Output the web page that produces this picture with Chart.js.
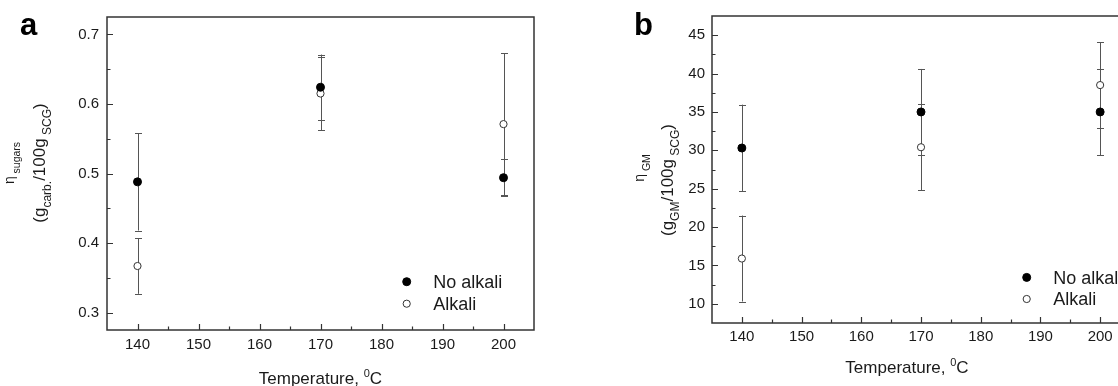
<!DOCTYPE html>
<html>
<head>
<meta charset="utf-8">
<script src="https://cdn.jsdelivr.net/npm/chart.js@4.4.1/dist/chart.umd.min.js"></script>
<style>
  html, body { margin: 0; padding: 0; background: #fff; overflow: hidden; }
  #wrap { position: relative; width: 1118px; height: 386px; overflow: hidden; }
  #chart-a { position: absolute; left: 0; top: 0; }
  #chart-b { position: absolute; left: 560px; top: 0; }
</style>
</head>
<body>
<div id="wrap">
  <canvas id="chart-a" width="560" height="386"></canvas>
  <canvas id="chart-b" width="600" height="386"></canvas>
</div>
<script>
const temps = [140, 170, 200];
const xTicks = [140, 150, 160, 170, 180, 190, 200];

// panel a - sugars yield
const sugarsNoAlkali = [0.488, 0.624, 0.494];
const sugarsNoAlkaliErr = [0.070, 0.047, 0.027];
const sugarsAlkali = [0.367, 0.615, 0.571];
const sugarsAlkaliErr = [0.040, 0.053, 0.102];
const sugarsTicks = [0.3, 0.4, 0.5, 0.6, 0.7];

// panel b - GM yield
const gmNoAlkali = [30.3, 35.0, 35.0];
const gmNoAlkaliErr = [5.65, 5.6, 5.65];
const gmAlkali = [15.9, 30.4, 38.5];
const gmAlkaliErr = [5.6, 5.6, 5.6];
const gmTicks = [10, 15, 20, 25, 30, 35, 40, 45];

const seriesNames = ["No alkali", "Alkali"];

const FONT = "Arial, 'Liberation Sans', sans-serif";
const INK = "#1a1a1a";

function drawRich(ctx, parts, x, y, rotate) {
  ctx.save();
  ctx.translate(x, y);
  if (rotate) ctx.rotate(-Math.PI / 2);
  ctx.textBaseline = "alphabetic";
  ctx.textAlign = "left";
  ctx.fillStyle = INK;
  let total = 0;
  parts.forEach(p => {
    ctx.font = (p.bold ? "bold " : "") + p.size + "px " + FONT;
    p.w = ctx.measureText(p.t).width;
    total += p.w;
  });
  let cx = -total / 2;
  parts.forEach(p => {
    ctx.font = (p.bold ? "bold " : "") + p.size + "px " + FONT;
    ctx.fillText(p.t, cx, p.dy || 0);
    cx += p.w;
  });
  ctx.restore();
}

const decor = {
  id: "decor",
  beforeDatasetsDraw(chart) {
    const ctx = chart.ctx;
    const xs = chart.scales.x, ys = chart.scales.y;
    ctx.save();
    ctx.strokeStyle = "#555";
    ctx.lineWidth = 1;
    chart.data.datasets.forEach(ds => {
      ds.data.forEach((pt, i) => {
        const e = ds.errors[i];
        const x = Math.round(xs.getPixelForValue(pt.x)) + 0.5;
        const y1 = ys.getPixelForValue(pt.y + e);
        const y2 = ys.getPixelForValue(pt.y - e);
        ctx.beginPath();
        ctx.moveTo(x, y1); ctx.lineTo(x, y2);
        ctx.moveTo(x - 3.5, Math.round(y1) + 0.5); ctx.lineTo(x + 3.5, Math.round(y1) + 0.5);
        ctx.moveTo(x - 3.5, Math.round(y2) + 0.5); ctx.lineTo(x + 3.5, Math.round(y2) + 0.5);
        ctx.stroke();
      });
    });
    ctx.restore();
  },
  afterDraw(chart, args, o) {
    const ctx = chart.ctx;
    const a = chart.chartArea;
    const xs = chart.scales.x, ys = chart.scales.y;
    ctx.save();

    // frame
    ctx.strokeStyle = "#333";
    ctx.lineWidth = 1.5;
    ctx.strokeRect(a.left, a.top, a.right - a.left, a.bottom - a.top);

    // inward ticks, major + minor
    ctx.lineWidth = 1.2;
    ctx.beginPath();
    xTicks.forEach(v => {
      const x = Math.round(xs.getPixelForValue(v)) + 0.5;
      ctx.moveTo(x, a.bottom); ctx.lineTo(x, a.bottom - 6);
      [v - 5, v + 5].forEach(m => {
        if (m > xs.min && m < xs.max) {
          const xm = Math.round(xs.getPixelForValue(m)) + 0.5;
          ctx.moveTo(xm, a.bottom); ctx.lineTo(xm, a.bottom - 3.5);
        }
      });
    });
    o.yTicks.forEach(v => {
      const y = Math.round(ys.getPixelForValue(v)) + 0.5;
      ctx.moveTo(a.left, y); ctx.lineTo(a.left + 6, y);
      [v - o.yMinor, v + o.yMinor].forEach(m => {
        if (m > ys.min && m < ys.max) {
          const ym = Math.round(ys.getPixelForValue(m)) + 0.5;
          ctx.moveTo(a.left, ym); ctx.lineTo(a.left + 3.5, ym);
        }
      });
    });
    ctx.stroke();

    // axis titles
    o.yTitle.forEach(line => drawRich(ctx, line.parts, line.x, line.y, true));
    drawRich(ctx, [
      { t: "Temperature, ", size: 17 },
      { t: "0", size: 11, dy: -7 },
      { t: "C", size: 17 }
    ], o.xTitle.x, o.xTitle.y, false);

    // panel letter
    ctx.fillStyle = "#000";
    ctx.font = "bold 31px " + FONT;
    ctx.textAlign = "left";
    ctx.textBaseline = "alphabetic";
    ctx.fillText(o.letter.t, o.letter.x, o.letter.y);

    // legend inside plot
    const lx = a.right - o.legend.dx;
    chart.data.datasets.forEach((ds, i) => {
      const ly = a.bottom - o.legend.dy + i * o.legend.gap;
      ctx.beginPath();
      ctx.arc(lx, ly, ds.pointRadius, 0, Math.PI * 2);
      ctx.fillStyle = ds.pointBackgroundColor;
      ctx.fill();
      ctx.lineWidth = 1;
      ctx.strokeStyle = ds.pointBorderColor;
      ctx.stroke();
      ctx.fillStyle = INK;
      ctx.font = "18px " + FONT;
      ctx.fillText(ds.label, lx + 26.5, ly + 6.4);
    });
    ctx.restore();
  }
};

function series(vals, errs, idx) {
  const filled = idx === 0;
  return {
    label: seriesNames[idx],
    data: temps.map((t, i) => ({ x: t, y: vals[i] })),
    errors: errs,
    showLine: false,
    pointRadius: filled ? 4 : 3.6,
    pointHoverRadius: filled ? 4 : 3.6,
    pointBackgroundColor: filled ? "#000" : "#fff",
    pointBorderColor: filled ? "#000" : "#333",
    pointBorderWidth: 1
  };
}

function makePanel(id, p) {
  new Chart(document.getElementById(id).getContext("2d"), {
    type: "scatter",
    data: {
      datasets: [series(p.noAlk, p.noAlkErr, 0), series(p.alk, p.alkErr, 1)]
    },
    plugins: [decor],
    options: {
      responsive: false,
      animation: false,
      devicePixelRatio: 1,
      layout: { padding: { left: 0, top: 15, right: p.padRight, bottom: 0 } },
      plugins: {
        legend: { display: false },
        tooltip: { enabled: false },
        decor: p.decor
      },
      scales: {
        x: {
          type: "linear",
          min: 135,
          max: 205,
          grid: { display: false, drawTicks: false },
          border: { display: false },
          afterBuildTicks: s => { s.ticks = xTicks.map(v => ({ value: v })); },
          afterFit: s => { s.height = p.xHeight; },
          ticks: { color: INK, padding: p.xPad, font: { family: FONT, size: 15 } }
        },
        y: {
          type: "linear",
          min: p.yMin,
          max: p.yMax,
          grid: { display: false, drawTicks: false },
          border: { display: false },
          afterBuildTicks: s => { s.ticks = p.yTicks.map(v => ({ value: v })); },
          afterFit: s => { s.width = p.yWidth; },
          ticks: {
            color: INK,
            padding: p.yPad,
            font: { family: FONT, size: 15 },
            callback: p.yFmt
          }
        }
      }
    }
  });
}

makePanel("chart-a", {
  noAlk: sugarsNoAlkali, noAlkErr: sugarsNoAlkaliErr,
  alk: sugarsAlkali, alkErr: sugarsAlkaliErr,
  yMin: 0.275, yMax: 0.725, yTicks: sugarsTicks,
  yFmt: v => v.toFixed(1),
  yWidth: 107, xHeight: 56, padRight: 26, xPad: 6, yPad: 8,
  decor: {
    yTicks: sugarsTicks, yMinor: 0.05,
    yTitle: [
      { x: 13.5, y: 163, parts: [{ t: "\u03b7", size: 14 }, { t: " sugars", size: 10.5, dy: 6 }] },
      { x: 45, y: 163, parts: [
        { t: "(g", size: 17 }, { t: "carb.", size: 12, dy: 6 },
        { t: "/100g", size: 17 }, { t: " SCG", size: 12, dy: 6 }, { t: ")", size: 17 }
      ] }
    ],
    xTitle: { x: 320.4, y: 384 },
    letter: { t: "a", x: 20, y: 35 },
    legend: { dx: 127.3, dy: 48.3, gap: 22 }
  }
});

makePanel("chart-b", {
  noAlk: gmNoAlkali, noAlkErr: gmNoAlkaliErr,
  alk: gmAlkali, alkErr: gmAlkaliErr,
  yMin: 7.5, yMax: 47.5, yTicks: gmTicks,
  yFmt: v => String(v),
  yWidth: 152, xHeight: 63, padRight: 30, xPad: 5, yPad: 7,
  decor: {
    yTicks: gmTicks, yMinor: 2.5,
    yTitle: [
      { x: 84, y: 168, parts: [{ t: "\u03b7", size: 14 }, { t: " GM", size: 10.5, dy: 6 }] },
      { x: 113, y: 180, parts: [
        { t: "(g", size: 17 }, { t: "GM", size: 12, dy: 6 },
        { t: "/100g", size: 17 }, { t: " SCG", size: 12, dy: 6 }, { t: ")", size: 17 }
      ] }
    ],
    xTitle: { x: 347, y: 373 },
    letter: { t: "b", x: 74, y: 35 },
    legend: { dx: 103.3, dy: 45.6, gap: 21.6 }
  }
});
</script>
</body>
</html>
